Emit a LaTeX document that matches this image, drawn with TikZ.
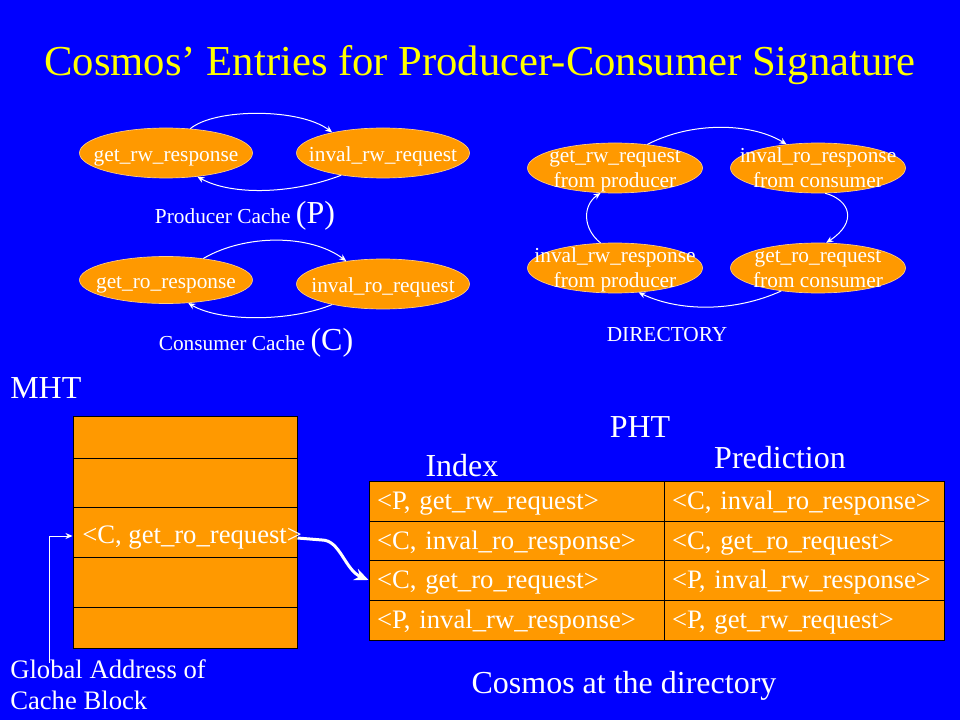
\documentclass[tikz,border=0pt]{standalone}
\usepackage{fontspec}
\setmainfont{Liberation Serif}
\usetikzlibrary{shapes.geometric,arrows.meta}
\definecolor{bgblue}{RGB}{0,0,255}
\definecolor{org}{RGB}{255,153,0}
\definecolor{ttl}{RGB}{255,255,0}
\begin{document}
\begin{tikzpicture}[x=0.75pt,y=0.75pt,
 ell/.style={ellipse, fill=org, draw=white!50!org, line width=0.5pt, minimum width=129.75pt, minimum height=37.5pt, inner xsep=-20pt, inner ysep=-12pt, text=white, font=\fontsize{16}{18.4}\selectfont, align=center, text height=16pt, text depth=3pt},
 dell/.style={ell, minimum width=131.25pt, text height=30pt, text depth=1pt, inner ysep=-20pt},
 lbl/.style={text=white, inner sep=0pt},
 f16/.style={font=\fontsize{16}{19}\selectfont},
 f20/.style={font=\fontsize{20}{23.25}\selectfont},
 f24/.style={font=\fontsize{24}{28}\selectfont},
 warrow/.style={draw=white, line width=0.75pt, -{Stealth[length=5.25pt,width=4.5pt]}},
 mrow/.style={draw=black, fill=org, minimum width=168pt, inner sep=0pt, line width=0.75pt},
 pcell/.style={draw=black, fill=org, minimum height=30pt, inner xsep=6pt, inner ysep=0pt, text=white, f20, align=left, line width=0.75pt, text height=16pt, text depth=3pt},
 icell/.style={pcell, minimum width=221.25pt, text width=209.25pt},
 rcell/.style={pcell, minimum width=210pt, text width=198pt},
]
\fill[bgblue] (0,0) rectangle (960,-720);
\useasboundingbox (0,0) rectangle (960,-720);

\node[lbl, text=ttl, font=\fontsize{32}{38}\selectfont, anchor=base] (title) at (480,-76) {Cosmos’ Entries for Producer-Consumer Signature};

% caches
\node[ell] (grw) at (166,-153) {get\_rw\_response};
\node[ell] (irw) at (383,-153) {inval\_rw\_request};
\node[ell, minimum height=35.25pt] (gro) at (166,-280) {get\_ro\_response};
\node[ell] (iro) at (383,-284) {inval\_ro\_request};
\node[lbl, f16, anchor=base] (pc) at (245,-224) {Producer Cache {\fontsize{24}{28}\selectfont (P)}};
\node[lbl, f16, anchor=base] (cc) at (256,-350) {Consumer Cache {\fontsize{24}{28}\selectfont (C)}};

\draw[warrow] (grw.45) .. controls (215,-108) and (300,-108) .. (irw.158);
\draw[warrow] (irw.208) .. controls (290,-195) and (230,-195) .. (grw.-37);
\draw[warrow] (gro.30) .. controls (245,-234) and (310,-234) .. (iro.148);
\draw[warrow] (iro.202) .. controls (290,-322) and (220,-322) .. (gro.-46);

% directory
\node[dell] (A) at (615,-168) {get\_rw\_request\\from producer};
\node[dell] (B) at (818,-168) {inval\_ro\_response\\from consumer};
\node[dell] (C) at (615,-268) {inval\_rw\_response\\from producer};
\node[dell] (D) at (818,-268) {get\_ro\_request\\from consumer};
\node[lbl, f16] (dir) at (667,-335) {DIRECTORY};

\draw[warrow] (A.36) .. controls (690,-122) and (750,-122) .. (B.143);
\draw[warrow] (B.-74) .. controls (850,-200) and (858,-222) .. (D.72);
\draw[warrow] (D.212) .. controls (735,-312) and (680,-312) .. (C.-46);
\draw[warrow] (C.120) .. controls (582,-228) and (583,-205) .. (A.-120);

% MHT
\node[lbl, f24, anchor=west] (mhtl) at (10,-388) {MHT};
\node[mrow, minimum height=31.5pt] (m1) at (185,-437) {};
\node[mrow, minimum height=36.75pt] (m2) at (185,-482.5) {};
\node[mrow, minimum height=37.5pt] (m3) at (185,-532) {};
\node[mrow, minimum height=37.5pt] (m4) at (185,-582) {};
\node[mrow, minimum height=30.75pt] (m5) at (185,-627.5) {};
\node[lbl, f20, anchor=west] (mtxt) at (82,-538) {<C, get\_ro\_request>};

\coordinate (gstart) at (49,-663);
\draw[warrow] (gstart) |- ([yshift=-3pt]m3.west);
\node[lbl, f20, anchor=north west, align=left] (gaddr) at (10,-659) {Global Address of\\Cache Block};

% PHT
\node[lbl, f24] (phtl) at (640,-427) {PHT};
\node[lbl, f24] (idxl) at (462,-466) {Index};
\node[lbl, f24] (prdl) at (780,-458) {Prediction};

\node[icell] (i1) at (516.5,-501) {\mbox{<P, get\_rw\_request>}};
\node[icell] (i2) at (516.5,-541) {\mbox{<C, inval\_ro\_response>}};
\node[icell] (i3) at (516.5,-580) {\mbox{<C, get\_ro\_request>}};
\node[icell] (i4) at (516.5,-620) {\mbox{<P, inval\_rw\_response>}};
\node[rcell] (p1) at (804,-501) {\mbox{<C, inval\_ro\_response>}};
\node[rcell] (p2) at (804,-541) {\mbox{<C, get\_ro\_request>}};
\node[rcell] (p3) at (804,-580) {\mbox{<P, inval\_rw\_response>}};
\node[rcell] (p4) at (804,-620) {\mbox{<P, get\_rw\_request>}};

\draw[white, line width=2.25pt, -{Stealth[length=10.5pt,width=9pt]}] ([yshift=-4.5pt]m3.east) -- (322,-540) .. controls (340,-540) and (345,-570) .. (i3.west);

\node[lbl, f24] (cosd) at (624,-686) {Cosmos at the directory};
\end{tikzpicture}
\end{document}
